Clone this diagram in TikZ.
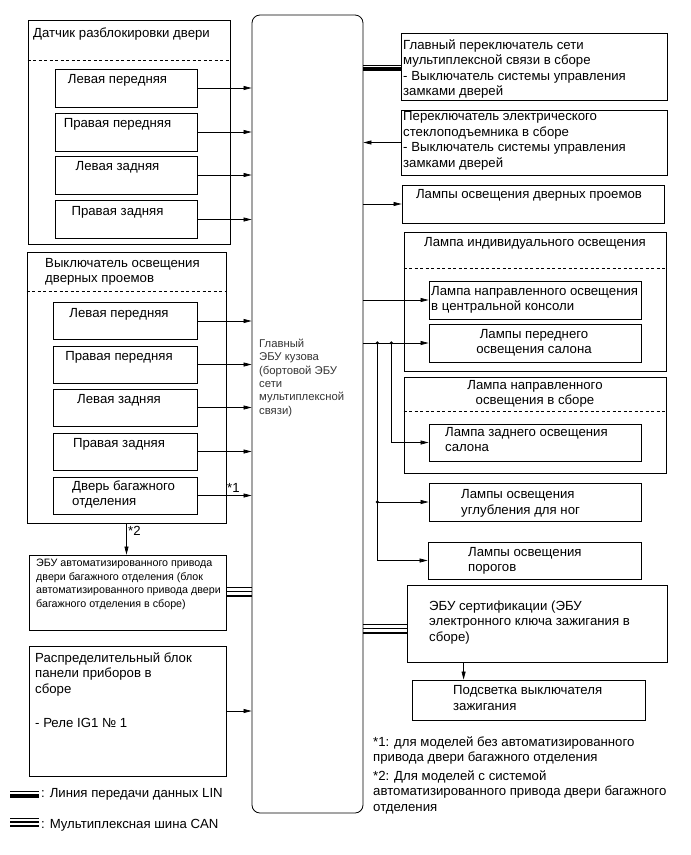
\documentclass[tikz,border=0pt]{standalone}
\usepackage{fontspec}
\setmainfont{Liberation Sans}
\usetikzlibrary{arrows.meta,positioning,calc}

\tikzset{
  unit/.style 2 args={draw, line width=0.8pt, inner sep=0pt, minimum width=#1, minimum height=#2},
  lbl/.style={font=\fontsize{13.2}{15.5}\selectfont, inner sep=0pt, align=left},
  lblc/.style={lbl, align=center},
  small/.style={font=\fontsize{10.7}{13.7}\selectfont, inner sep=0pt, align=left},
  sig/.style={-{Triangle[length=8pt,width=4pt]}, line width=0.7pt},
  sep/.style={dash pattern=on 3pt off 2.5pt, line width=0.7pt},
}
% bus lines between two named points
\newcommand{\linbus}[2]{%
  \draw[line width=0.6pt] ($(#1)+(0,-2.5)$) -- ($(#2)+(0,-2.5)$);
  \draw[line width=4pt] ($(#1)+(0,1.5)$) -- ($(#2)+(0,1.5)$);}
\newcommand{\canbus}[2]{%
  \draw[line width=0.6pt] ($(#1)+(0,-4)$) -- ($(#2)+(0,-4)$);
  \draw[line width=1.2pt] (#1) -- (#2);
  \draw[line width=2pt] ($(#1)+(0,4)$) -- ($(#2)+(0,4)$);}

\begin{document}
\begin{tikzpicture}[x=1pt,y=-1pt]
  \useasboundingbox (0,0) rectangle (691,855);
  % main body ECU (multi-line texts are placed by their last baseline)
  \node[unit={111pt}{798pt}, rounded corners=8pt] (ecu) at (307.5,414) {};
  \node[small, font=\fontsize{11.3}{13.3}\selectfont, anchor=base west, text=black!80] (ecu-t) at (259,414)
       {Главный\\ЭБУ кузова\\(бортовой ЭБУ\\сети\\мультиплексной\\связи)};

  % door unlock detection switches
  \node[unit={202pt}{224pt}] (l1) at (129,132) {};
  \node[lbl, anchor=base west] (l1-t) at (33,37) {Датчик разблокировки двери};
  \draw[sep] ($(l1.north west)+(0,41)$) -- ($(l1.north east)+(0,41)$);
  \foreach \n/\yc/\txt in {a/88/Левая передняя, b/132/Правая передняя,
                           c/175/Левая задняя, d/219.5/Правая задняя}{
    \node[unit={142pt}{38pt}] (l1\n) at (126,\yc) {};
    \node[lblc, anchor=base] (l1\n-t) at ($(l1\n.north)+(-8.5,15)$) {\txt};
    \draw[sig] (l1\n) -- (l1\n -| ecu.west);
  }

  % courtesy light switches
  \node[unit={199pt}{271pt}] (l2) at (126.5,387.5) {};
  \node[lbl, anchor=base west] (l2-t) at (45,282.5) {Выключатель освещения\\дверных проемов};
  \draw[sep] ($(l2.north west)+(0,40)$) -- ($(l2.north east)+(0,40)$);
  \foreach \n/\yc/\txt in {a/321/Левая передняя, b/364.5/Правая передняя,
                           c/407.5/Левая задняя, d/451.5/Правая задняя}{
    \node[unit={144pt}{37pt}] (l2\n) at (125,\yc) {};
    \node[lblc, anchor=base] (l2\n-t) at ($(l2\n.north)+(-6,15)$) {\txt};
    \draw[sig] (l2\n) -- (l2\n -| ecu.west);
  }
  \node[unit={144pt}{37pt}] (l2e) at (125,495.5) {};
  \node[lbl, anchor=base west] (l2e-t) at (72,505.5) {Дверь багажного\\отделения};
  \draw[sig] (l2e) -- (l2e -| ecu.west);
  \node[lbl, anchor=base west] (n1) at (227,492) {*1};

  % power back door ECU
  \node[unit={197pt}{75pt}] (l3) at (127.5,592.5) {};
  \node[small, anchor=base west] (l3-t) at (36,607.6)
       {ЭБУ автоматизированного привода\\двери багажного отделения (блок\\автоматизированного привода двери\\багажного отделения в сборе)};
  \draw[sig] (l2.south) -- (l2.south |- l3.north);
  \node[lbl, anchor=base west] (n2) at (128,535) {*2};
  \coordinate (can1a) at ($(l3.east)+(0,-1)$);
  \coordinate (can1b) at (can1a -| ecu.west);
  \canbus{can1a}{can1b}

  % instrument panel junction block
  \node[unit={197pt}{130pt}] (l4) at (127.5,711) {};
  \node[lbl, anchor=base west] (l4-t) at (35,727)
       {Распределительный блок\\панели приборов в\\сборе\\[18.5pt]- Реле IG1 № 1};
  \draw[sig] (l4) -- (l4 -| ecu.west);

  % legend
  \coordinate (lg1a) at (10,794);
  \coordinate (lg1b) at (39,794);
  \linbus{lg1a}{lg1b}
  \node[lbl, anchor=base west] (lg1-t) at (41,797) {: Линия передачи данных LIN};
  \coordinate (lg2a) at (10,822);
  \coordinate (lg2b) at (39,822);
  \canbus{lg2a}{lg2b}
  \node[lbl, anchor=base west] (lg2-t) at (41,828) {: Мультиплексная шина CAN};

  % right column
  \node[unit={266pt}{67pt}] (r1) at (534,66.5) {};
  \node[lbl, anchor=base west] (r1-t) at (403,95.5)
       {Главный переключатель сети\\мультиплексной связи в сборе\\- Выключатель системы управления\\замками дверей};
  \coordinate (lin1b) at ($(r1.west)+(0,1)$);
  \coordinate (lin1a) at (lin1b -| ecu.east);
  \linbus{lin1a}{lin1b}

  \node[unit={266pt}{65pt}] (r2) at (534,142.5) {};
  \node[lbl, anchor=base west] (r2-t) at (403,167)
       {Переключатель электрического\\стеклоподъемника в сборе\\- Выключатель системы управления\\замками дверей};
  \draw[sig] (r2) -- (r2 -| ecu.east);

  \node[unit={262pt}{38pt}] (r3) at (533,204) {};
  \node[lblc, anchor=base] (r3-t) at (529,198) {Лампы освещения дверных проемов};
  \draw[sig] (r3 -| ecu.east) -- (r3);

  \node[unit={262pt}{139pt}] (r4) at (535,301.5) {};
  \node[lblc, anchor=base] (r4-t) at (535,246) {Лампа индивидуального освещения};
  \draw[sep] ($(r4.north west)+(0,37)$) -- ($(r4.north east)+(0,37)$);
  \node[unit={212pt}{38pt}] (r4a) at (535,300) {};
  \node[lbl, anchor=base west] (r4a-t) at (431,310.5) {Лампа направленного освещения\\в центральной консоли};
  \node[unit={212pt}{38pt}] (r4b) at (535,343) {};
  \node[lblc, anchor=base] (r4b-t) at (534,353.5) {Лампы переднего\\освещения салона};

  \node[unit={262pt}{96pt}] (r5) at (535,425) {};
  \node[lblc, anchor=base] (r5-t) at (535,404.5) {Лампа направленного\\освещения в сборе};
  \draw[sep] ($(r5.north west)+(0,35)$) -- ($(r5.north east)+(0,35)$);
  \node[unit={212pt}{37pt}] (r5a) at (535,442.5) {};
  \node[lbl, anchor=base west] (r5a-t) at (445,451.5) {Лампа заднего освещения\\салона};

  \node[unit={212pt}{38pt}] (r6) at (535,502) {};
  \node[lbl, anchor=base west] (r6-t) at (461,514) {Лампы освещения\\углубления для ног};
  \node[unit={213pt}{37pt}] (r7) at (534.5,560.5) {};
  \node[lbl, anchor=base west] (r7-t) at (468,571.5) {Лампы освещения\\порогов};

  % lamp feeds
  \coordinate (j1) at ($(ecu.east |- r4b)+(14,0)$);
  \coordinate (j2) at ($(ecu.east |- r4b)+(28,0)$);
  \coordinate (j3) at (j1 |- r6);
  \draw[sig] (r4a -| ecu.east) -- (r4a);
  \draw[sig] (r4b -| ecu.east) -- (r4b);
  \draw[sig] (j2) |- (r5a);
  \draw[sig] (j1) |- (r7);
  \draw[sig] (j3) -- (r6);
  \foreach \j in {j1,j2,j3} \fill (\j) circle (1.8pt);

  % certification ECU
  \node[unit={260pt}{77pt}] (r8) at (537,623.5) {};
  \node[lbl, anchor=base west] (r8-t) at (429,641)
       {ЭБУ сертификации (ЭБУ\\электронного ключа зажигания в\\сборе)};
  \coordinate (can2a) at ($(ecu.east |- r8)+(0,5)$);
  \coordinate (can2b) at (can2a -| r8.west);
  \canbus{can2a}{can2b}
  \node[unit={233pt}{40pt}] (r9) at (528.5,700) {};
  \node[lbl, anchor=base west] (r9-t) at (453,710) {Подсветка выключателя\\зажигания};
  \coordinate (r8out) at ($(r8.south west)+(57,0)$);
  \draw[sig] (r8out) -- (r8out |- r9.north);

  % notes
  \node[lbl, anchor=base west] (fn1) at (373,761.5)
       {*1: для моделей без автоматизированного\\привода двери багажного отделения};
  \node[lbl, anchor=base west] (fn2) at (373,811)
       {*2: Для моделей с системой\\автоматизированного привода двери багажного\\отделения};
\end{tikzpicture}
\end{document}
